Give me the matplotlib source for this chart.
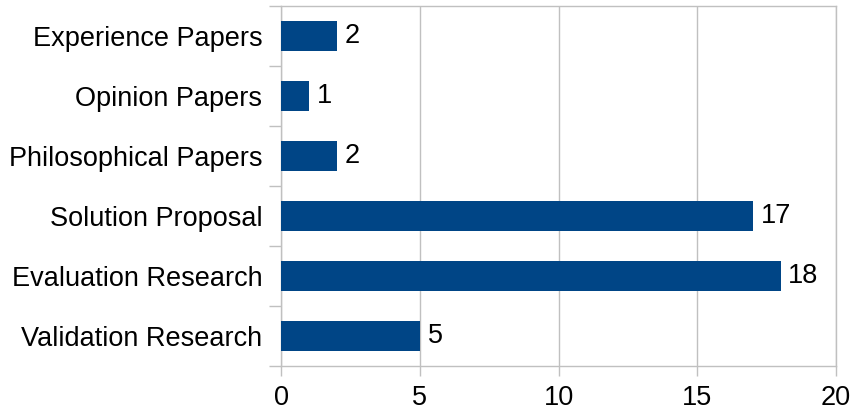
import matplotlib.pyplot as plt
import numpy as np

plt.rcParams['font.family'] = ['Liberation Sans', 'DejaVu Sans']

categories = ["Validation Research", "Evaluation Research", "Solution Proposal",
              "Philosophical Papers", "Opinion Papers", "Experience Papers"]
counts = [5, 18, 17, 2, 1, 2]
x_ticks = [0, 5, 10, 15, 20]

bar_color = "#004586"
grid_color = "#c0c0c0"
fs = 19.5

fig = plt.figure(figsize=(8.55, 4.15), dpi=100)
ax = fig.add_axes([0.3287, 0.1181, 0.6491, 0.8674])

y = np.arange(len(categories))
bars = ax.barh(y, counts, height=0.5, color=bar_color, zorder=3)

ax.set_xlim(0, 20)
ax.set_ylim(-0.5, len(categories) - 0.5)
ax.set_xticks(x_ticks)
ax.set_xticklabels([str(t) for t in x_ticks], fontsize=fs)
ax.set_yticks(y)
ax.set_yticklabels(categories, fontsize=fs)
ax.set_yticks(np.arange(-0.5, len(categories)), minor=True)

ax.tick_params(axis='y', which='major', length=0, pad=13.5)
ax.tick_params(axis='y', which='minor', length=9, color=grid_color, width=1)
ax.tick_params(axis='x', which='major', length=7, color=grid_color, width=1, pad=7)

ax.grid(axis='x', color=grid_color, linewidth=1, zorder=0)
for side in ['left', 'bottom', 'top', 'right']:
    ax.spines[side].set_color(grid_color)
    ax.spines[side].set_linewidth(1)

for rect, v in zip(bars, counts):
    ax.text(rect.get_width() + 0.28, rect.get_y() + rect.get_height() / 2, str(v),
            ha='left', va='center', fontsize=fs, color='black')

fig.savefig("out.png", dpi=100)
